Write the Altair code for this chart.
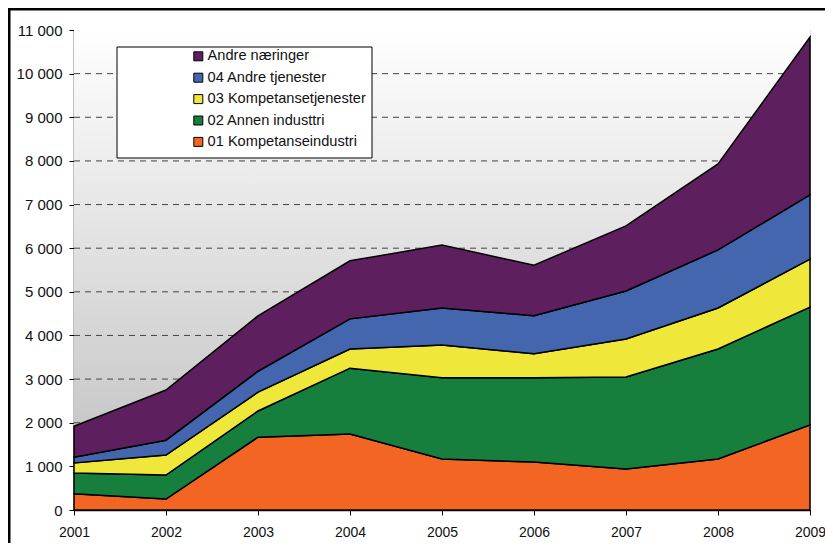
import altair as alt
import pandas as pd

years = [2001, 2002, 2003, 2004, 2005, 2006, 2007, 2008, 2009]
series = ["01 Kompetanseindustri", "02 Annen industtri", "03 Kompetansetjenester",
          "04 Andre tjenester", "Andre næringer"]
kompetanseindustri = [370, 250, 1670, 1740, 1170, 1100, 940, 1170, 1950]
annen_industri = [480, 550, 600, 1510, 1860, 1930, 2110, 2520, 2700]
kompetansetjenester = [230, 460, 430, 440, 750, 550, 870, 940, 1100]
andre_tjenester = [130, 340, 480, 690, 850, 870, 1100, 1330, 1470]
andre_naeringer = [710, 1150, 1270, 1330, 1440, 1160, 1490, 1970, 3620]
colors = ["#F26522", "#167F3E", "#EFE83A", "#4466AF", "#5E1F5E"]
y_ticks = list(range(0, 11001, 1000))
grid_values = list(range(1000, 10001, 1000))

values = [kompetanseindustri, annen_industri, kompetansetjenester, andre_tjenester, andre_naeringer]
rows = []
for i, (name, vals) in enumerate(zip(series, values)):
    for yr, v in zip(years, vals):
        rows.append({"year": yr, "series": name, "value": v, "ord": i})
df = pd.DataFrame(rows)

W, H = 736, 480
FONT = "Liberation Sans"

xscale = alt.Scale(domain=[2001, 2009], nice=False)
yscale = alt.Scale(domain=[0, 11000], nice=False)

y_axis = alt.Axis(values=y_ticks, grid=False, domainColor="black", domainWidth=1.5,
                  tickColor="black", tickSize=5, labelPadding=7, labelFontSize=15,
                  labelFont=FONT, labelColor="#111111",
                  labelExpr="replace(format(datum.value, ','), ',', ' ')")
x_axis = alt.Axis(values=years, format="d", labelFlush=False, grid=False,
                  domainColor="black", domainWidth=1.5, tickColor="black",
                  tickSize=5, labelPadding=10, labelFontSize=14, labelFont=FONT,
                  labelColor="#111111")

one = pd.DataFrame({"k": [0]})

border = alt.Chart(one).mark_rect(fill="transparent", stroke="black", strokeWidth=3).encode(
    x=alt.value(-65), x2=alt.value(760), y=alt.value(-21), y2=alt.value(540)
)

bg = alt.Chart(one).mark_rect(
    color=alt.Gradient(
        gradient="linear",
        stops=[alt.GradientStop(color="#ffffff", offset=0),
               alt.GradientStop(color="#bdbdbd", offset=1)],
        x1=0, x2=0, y1=0, y2=1,
    )
).encode(x=alt.value(0), x2=alt.value(W), y=alt.value(0), y2=alt.value(H))

grid = alt.Chart(pd.DataFrame({"v": grid_values})).mark_rule(
    color="#444444", strokeWidth=1, strokeDash=[6, 5]
).encode(
    y=alt.Y("v:Q", scale=yscale, axis=y_axis, title=None),
    x=alt.value(0), x2=alt.value(W),
)

legend_box = alt.Chart(one).mark_rect(fill="white", stroke="black", strokeWidth=1).encode(
    x=alt.value(43), x2=alt.value(298), y=alt.value(17), y2=alt.value(128)
)

areas = alt.Chart(df).mark_area(stroke="black", strokeWidth=1.5, strokeJoin="miter").encode(
    x=alt.X("year:Q", scale=xscale, title=None, axis=x_axis),
    y=alt.Y("value:Q", stack="zero", scale=yscale, title=None, axis=y_axis),
    color=alt.Color("series:N",
                    scale=alt.Scale(domain=series[::-1], range=colors[::-1]),
                    legend=alt.Legend(title=None, orient="none", legendX=117, legendY=19,
                                      symbolType="square", symbolSize=81,
                                      symbolStrokeColor="black", symbolStrokeWidth=1,
                                      labelFont=FONT, labelFontSize=14.6, labelColor="#111111",
                                      labelOffset=2, labelLimit=400, rowPadding=6.4, padding=0)),
    order=alt.Order("ord:Q", sort="ascending"),
)

chart = alt.layer(border, bg, grid, legend_box, areas).properties(
    width=W, height=H,
    padding={"left": 66, "top": 22, "right": 15, "bottom": 33},
    autosize="none",
).configure_view(stroke="#999999", strokeWidth=1).configure(background="white")

chart.save("out.html", embed_options={"renderer": "svg", "actions": False})
